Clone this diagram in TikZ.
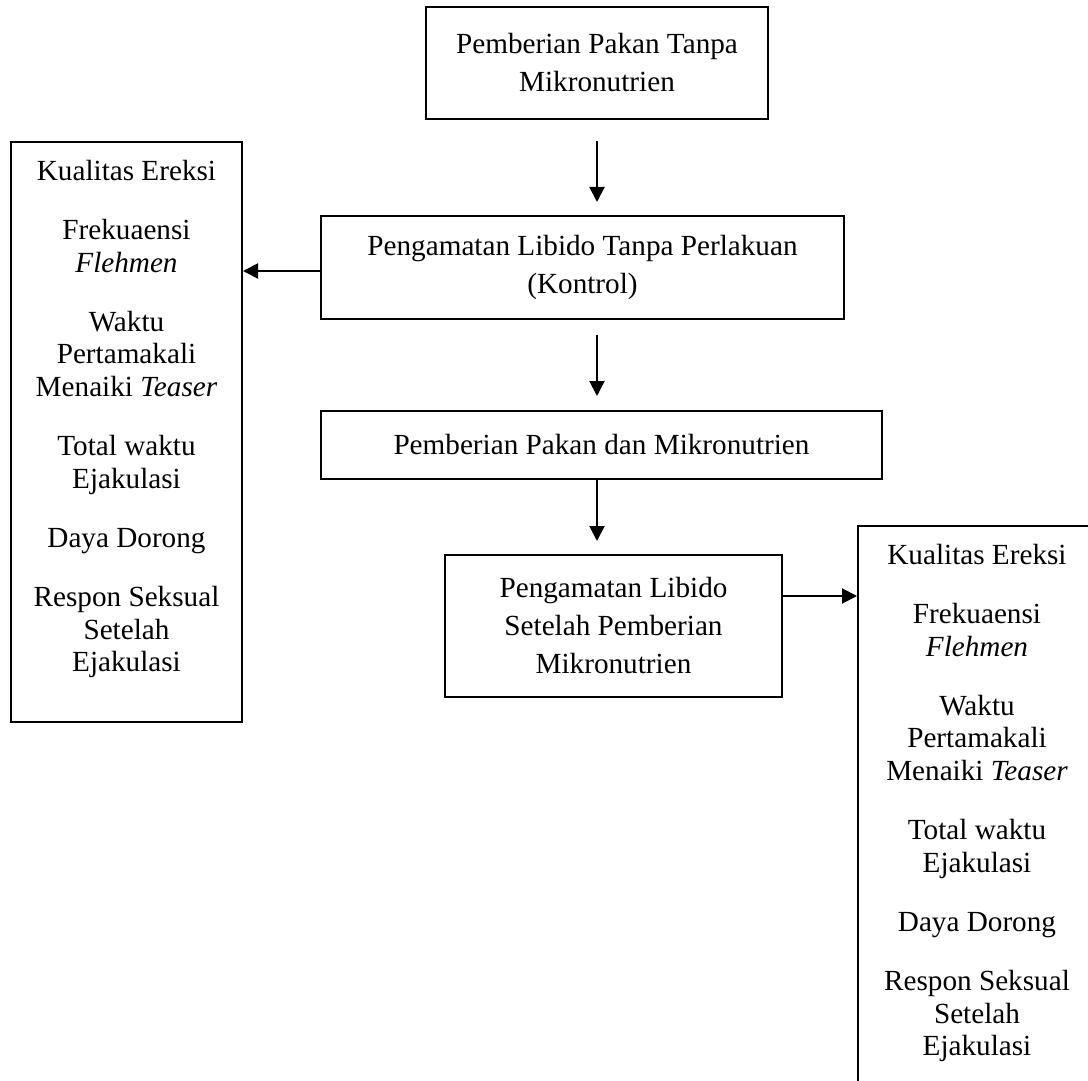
\documentclass[tikz,border=0pt]{standalone}
\usepackage{fontspec}
\setmainfont{Liberation Serif}
\usetikzlibrary{arrows.meta}

% isi kotak samping (dipakai dua kali)
\newcommand{\daftarlibido}{%
  \parbox[c][272pt][t]{112pt}{\centering\fontsize{14.6}{16.2}\selectfont
  Kualitas Ereksi\\[13.5pt]
  Frekuaensi\\ \textit{Flehmen}\\[13.5pt]
  Waktu\\ Pertamakali\\ Menaiki \textit{Teaser}\\[13.5pt]
  Total waktu\\ Ejakulasi\\[13.5pt]
  Daya Dorong\\[13.5pt]
  Respon Seksual\\ Setelah\\ Ejakulasi}}

\begin{document}
\begin{tikzpicture}[x=0.5pt,y=-0.5pt,
  kotak/.style={draw, line width=1pt, align=center, inner sep=0pt,
    font=\fontsize{14.6}{19}\selectfont},
  panah/.style={-{Triangle[length=7.5pt,width=7.5pt]}, line width=1pt}]
\useasboundingbox (0,0) rectangle (1088,1081);
\clip (0,0) rectangle (1088,1081);
% alur tengah
\node[kotak, minimum width=171pt, minimum height=56pt] (atas) at (597,63)
  {Pemberian Pakan Tanpa\\ Mikronutrien};
\node[kotak, minimum width=261.5pt, minimum height=51.5pt] (kontrol) at (582.5,267.5)
  {Pengamatan Libido Tanpa Perlakuan\\ (Kontrol)};
\node[kotak, minimum width=280.5pt, minimum height=34pt] (pakanmikro) at (601.5,445)
  {Pemberian Pakan dan Mikronutrien};
\node[kotak, minimum width=168.5pt, minimum height=71pt] (setelah) at (613.5,626)
  {Pengamatan Libido\\ Setelah Pemberian\\ Mikronutrien};
% kotak samping
\node[kotak, minimum width=115.5pt, minimum height=290pt] (kiri) at (126.5,432) {\daftarlibido};
\node[kotak, minimum width=119pt, minimum height=290pt, anchor=north] (kanan) at (977,525) {\daftarlibido};
% panah
\draw[panah, shorten <=10.5pt, shorten >=6.5pt] (atas.south) -- (atas.south |- kontrol.north);
\draw[panah, shorten <=7.5pt, shorten >=7pt] (kontrol.south -| atas.south) -- (pakanmikro.north -| atas.south);
\draw[panah, shorten >=6.5pt] (pakanmikro.south -| atas.south) -- (setelah.north -| atas.south);
\draw[panah] ([yshift=-1.75pt]kontrol.west) -- ([yshift=-1.75pt]kontrol.west -| kiri.east);
\draw[panah] ([yshift=15pt]setelah.east) -- ([yshift=15pt]setelah.east -| kanan.west);
\end{tikzpicture}
\end{document}
